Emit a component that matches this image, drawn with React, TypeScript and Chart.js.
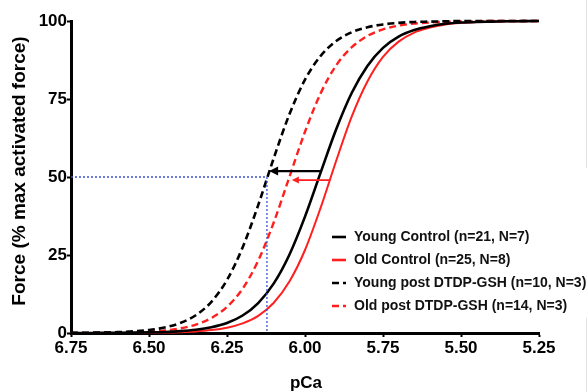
import React, { useEffect, useRef } from "react";
import { Chart, registerables } from "chart.js";

Chart.register(...registerables);

const pCa = [6.75, 6.7, 6.65, 6.6, 6.55, 6.5, 6.45, 6.4, 6.35, 6.3, 6.25, 6.2, 6.15, 6.1, 6.05, 6.0, 5.95, 5.9, 5.85, 5.8, 5.75, 5.7, 5.65, 5.6, 5.55, 5.5, 5.45, 5.4, 5.35, 5.3, 5.25];

const youngControl = [0.01, 0.02, 0.03, 0.06, 0.11, 0.19, 0.33, 0.59, 1.05, 1.85, 3.2, 5.6, 9.6, 15.9, 25.1, 37.3, 51.4, 65.3, 77.0, 85.6, 91.4, 95.0, 97.1, 98.3, 99.1, 99.5, 99.7, 99.8, 99.9, 99.95, 100];
const oldControl = [0, 0.01, 0.01, 0.02, 0.04, 0.08, 0.15, 0.27, 0.5, 0.93, 1.7, 3.1, 5.5, 9.7, 16.5, 26.6, 40.1, 55.2, 69.4, 80.6, 88.5, 93.4, 96.3, 97.9, 98.9, 99.4, 99.7, 99.8, 99.9, 99.95, 100];
const youngPost = [0.05, 0.09, 0.15, 0.28, 0.52, 0.96, 1.75, 3.2, 5.7, 10.0, 17.0, 27.4, 41.0, 56.1, 70.1, 81.2, 88.8, 93.6, 96.4, 98.0, 98.9, 99.4, 99.7, 99.8, 99.9, 100, 100, 100, 100, 100, 100];
const oldPost = [0.02, 0.04, 0.08, 0.14, 0.25, 0.46, 0.83, 1.5, 2.7, 4.8, 8.4, 14.2, 23.2, 35.5, 50.0, 64.5, 76.8, 85.8, 91.6, 95.2, 97.3, 98.5, 99.2, 99.5, 99.75, 99.86, 99.9, 100, 100, 100, 100];

const seriesLabels = [
  "Young Control (n=21, N=7)",
  "Old Control (n=25, N=8)",
  "Young post DTDP-GSH (n=10, N=3)",
  "Old post DTDP-GSH (n=14, N=3)",
];

const guideX = [6.75, 6.122, 6.122];
const guideY = [50, 50, 0];

const arrowFrom = [5.952, 5.92];
const arrowTo = [6.115, 6.042];
const arrowY = [51.9, 49.0];

const xTitle = "pCa";
const yTitle = "Force (% max activated force)";

const FONT = "'Liberation Sans', Arial, Helvetica, sans-serif";
const RED = "#ff1f1f";

export default function App() {
  const ref = useRef<HTMLCanvasElement>(null);

  useEffect(() => {
    document.body.style.margin = "0";
    const canvas = ref.current!;
    const colors = ["#000000", RED, "#000000", RED];
    const dashes = [[], [], [7, 4], [7, 4]];
    const widths = [2.6, 2, 2.6, 2.4];
    const values = [youngControl, oldControl, youngPost, oldPost];

    const datasets: any[] = values.map((vals, i) => ({
      label: seriesLabels[i],
      data: pCa.map((x, j) => ({ x, y: vals[j] })),
      borderColor: colors[i],
      borderWidth: widths[i],
      borderDash: dashes[i],
      pointRadius: 0,
      fill: false,
      cubicInterpolationMode: "monotone",
      clip: false,
    }));
    datasets.unshift({
      label: "guide",
      data: guideX.map((x, j) => ({ x, y: guideY[j] })),
      borderColor: "#3a50d0",
      borderWidth: 1.3,
      borderDash: [2, 2],
      pointRadius: 0,
      fill: false,
      tension: 0,
      clip: false,
    });

    const arrowPlugin = {
      id: "arrows",
      afterDatasetsDraw(chart: any) {
        const { ctx, scales } = chart;
        const xs = scales.x;
        const ys = scales.y;
        const aColors = ["#000000", RED];
        const aWidths = [2.2, 1.8];
        const heads = [[9, 4.5], [7, 3.5]];
        for (let i = 0; i < arrowFrom.length; i++) {
          const x1 = xs.getPixelForValue(arrowFrom[i]);
          const x2 = xs.getPixelForValue(arrowTo[i]);
          const y = ys.getPixelForValue(arrowY[i]);
          ctx.save();
          ctx.strokeStyle = aColors[i];
          ctx.fillStyle = aColors[i];
          ctx.lineWidth = aWidths[i];
          ctx.setLineDash([]);
          ctx.beginPath();
          ctx.moveTo(x1, y);
          ctx.lineTo(x2 + heads[i][0] - 1, y);
          ctx.stroke();
          ctx.beginPath();
          ctx.moveTo(x2, y);
          ctx.lineTo(x2 + heads[i][0], y - heads[i][1]);
          ctx.lineTo(x2 + heads[i][0], y + heads[i][1]);
          ctx.closePath();
          ctx.fill();
          ctx.restore();
        }
      },
    };

    const legendPlugin = {
      id: "customLegend",
      afterDraw(chart: any) {
        const { ctx } = chart;
        ctx.save();
        ctx.font = `bold 14px ${FONT}`;
        ctx.textBaseline = "middle";
        ctx.textAlign = "left";
        const ds = chart.data.datasets.filter((d: any) => d.label !== "guide");
        ds.forEach((d: any, i: number) => {
          const y = 237 + i * 23;
          ctx.strokeStyle = d.borderColor;
          ctx.lineWidth = 2.6;
          ctx.setLineDash(d.borderDash || []);
          ctx.beginPath();
          ctx.moveTo(332, y);
          ctx.lineTo(346, y);
          ctx.stroke();
          ctx.setLineDash([]);
          ctx.fillStyle = "#111";
          ctx.fillText(d.label, 354, y + 0.5);
        });
        ctx.restore();
      },
    };

    const titlePlugin = {
      id: "titles",
      afterDraw(chart: any) {
        const { ctx } = chart;
        ctx.save();
        ctx.fillStyle = "#000";
        ctx.textAlign = "center";
        ctx.textBaseline = "middle";
        ctx.font = `bold 17px ${FONT}`;
        ctx.fillText(xTitle, 306, 383);
        ctx.translate(20, 171);
        ctx.rotate(-Math.PI / 2);
        ctx.font = `bold 19px ${FONT}`;
        ctx.fillText(yTitle, 0, 0);
        ctx.restore();
        ctx.save();
        ctx.strokeStyle = "#e2e2e2";
        ctx.lineWidth = 1;
        ctx.beginPath();
        ctx.moveTo(586.5, 0);
        ctx.lineTo(586.5, 168);
        ctx.moveTo(586.5, 318);
        ctx.lineTo(586.5, 392);
        ctx.stroke();
        ctx.restore();
      },
    };

    const tickFont = { family: FONT, size: 17, weight: "bold" as const };

    const chart = new Chart(canvas, {
      type: "line",
      data: { datasets },
      options: {
        animation: false,
        responsive: false,
        devicePixelRatio: 1,
        parsing: true,
        layout: { padding: { left: 0, right: 49, top: 21, bottom: 0 }, autoPadding: false },
        plugins: {
          legend: { display: false },
          tooltip: { enabled: false },
        },
        scales: {
          x: {
            type: "linear",
            reverse: true,
            min: 5.25,
            max: 6.75,
            ticks: {
              stepSize: 0.25,
              autoSkip: false,
              maxRotation: 0,
              padding: 1,
              color: "#000",
              font: tickFont,
              callback: (v: any) => Number(v).toFixed(2),
            },
            grid: {
              display: true,
              drawOnChartArea: false,
              drawTicks: true,
              tickLength: 4,
              tickColor: "#000",
              tickWidth: 2,
            },
            border: { display: true, color: "#000", width: 3 },
            afterFit: (s: any) => {
              s.height = 59;
            },
          },
          y: {
            type: "linear",
            min: 0,
            max: 100,
            ticks: {
              stepSize: 25,
              padding: 0,
              color: "#000",
              font: tickFont,
            },
            grid: {
              display: true,
              drawOnChartArea: false,
              drawTicks: true,
              tickLength: 4,
              tickColor: "#000",
              tickWidth: 2,
            },
            border: { display: true, color: "#000", width: 3 },
            afterFit: (s: any) => {
              s.width = 71;
            },
          },
        },
      },
      plugins: [arrowPlugin, legendPlugin, titlePlugin],
    });

    return () => chart.destroy();
  }, []);

  return (
    <div style={{ width: 588, height: 392, background: "#fff" }}>
      <canvas ref={ref} width={588} height={392} style={{ width: 588, height: 392, display: "block" }} />
    </div>
  );
}
